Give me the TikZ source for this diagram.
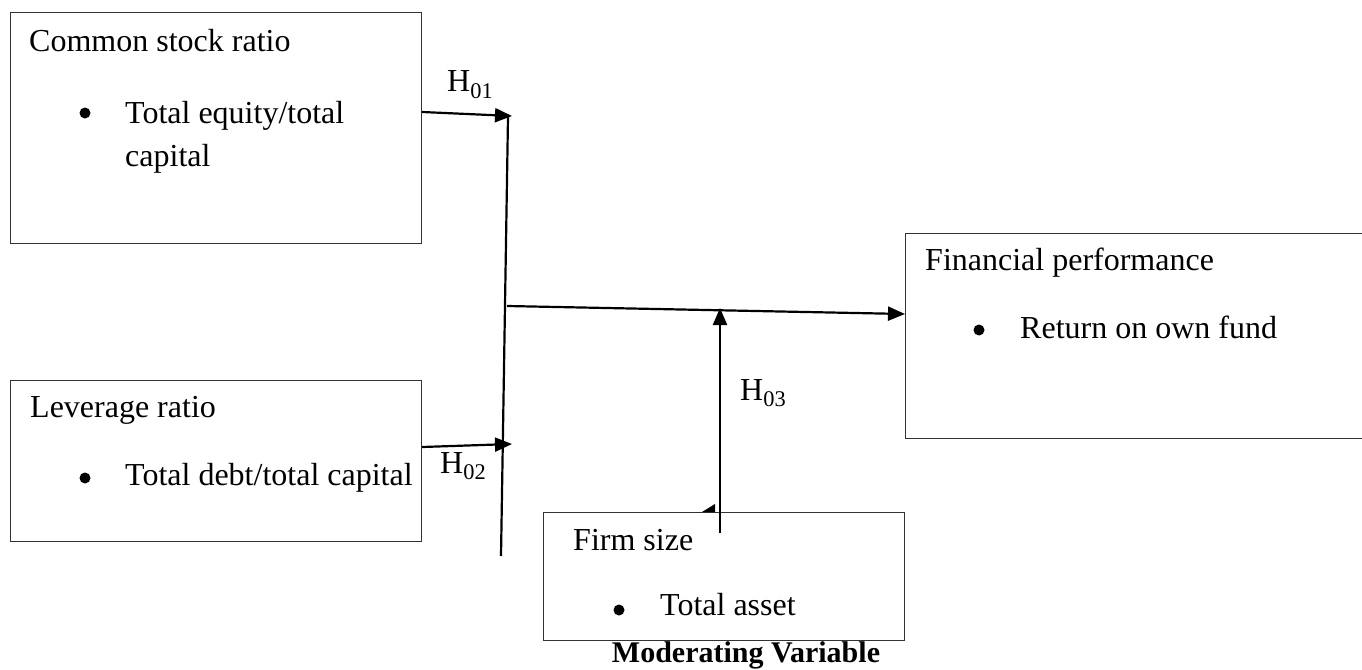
\documentclass[tikz,border=0pt]{standalone}
\usepackage{fontspec}
\setmainfont{Liberation Serif}
\usetikzlibrary{arrows.meta}

\tikzset{
  varbox/.style={draw=black!80, line width=1.2pt, fill=white, anchor=north west, inner sep=0pt},
  txt/.style={anchor=base west, inner sep=0pt, font=\fontsize{32}{38}\selectfont},
  hyp/.style={anchor=base west, inner sep=0pt, font=\fontsize{32}{38}\selectfont},
  dot/.style={circle, fill=black, inner sep=0pt, minimum size=11pt},
  link/.style={line width=2.2pt, black},
}

\begin{document}
\begin{tikzpicture}[x=1pt, y=-1pt, >={Triangle[length=17pt,width=14pt]}]
  \useasboundingbox[fill=white] (0,0) rectangle (1362,669);

  % Independent variables
  \node[varbox, minimum width=411pt, minimum height=231pt] (csr) at (10,12) {};
  \node[txt] (csrtitle) at (29,52) {Common stock ratio};
  \node[dot] (csrdot) at (85,113) {};
  \node[txt] (csritem) at (125,123) {Total equity/total};
  \node[txt] (csritemb) at (125,166) {capital};

  \node[varbox, minimum width=411pt, minimum height=161pt] (lev) at (10,380) {};
  \node[txt] (levtitle) at (30,417) {Leverage ratio};
  \node[dot] (levdot) at (85,478) {};
  \node[txt] (levitem) at (125,485) {Total debt/total capital};

  % Dependent variable (runs off the right edge)
  \node[varbox, minimum width=470pt, minimum height=205pt] (fp) at (905,233) {};
  \node[txt] (fptitle) at (925,270) {Financial performance};
  \node[dot] (fpdot) at (979,330) {};
  \node[txt] (fpitem) at (1020,338) {Return on own fund};

  % Moderating variable
  \node[varbox, minimum width=361pt, minimum height=128pt] (fs) at (543,512) {};
  \node[txt] (fstitle) at (573,550) {Firm size};
  \node[dot] (fsdot) at (619,610) {};
  \node[txt] (fsitem) at (660,615) {Total asset};
  \node[anchor=base, inner sep=0pt, font=\fontsize{30}{36}\selectfont\bfseries] (modlabel) at (746,662) {Moderating Variable};

  % Junction points
  \coordinate (vtop) at (508,117);
  \coordinate (vbot) at (501,556);
  \coordinate (jone) at (512,116);
  \coordinate (jtwo) at (512,444);
  \coordinate (jmid) at (507,306);
  \coordinate (fsout) at (720,533);
  \coordinate (fsin) at (720,308);

  % Connectors
  \draw[link] (vtop) -- (vbot);
  \draw[link, ->] (csr.east |- 0,112) -- (jone);
  \draw[link, ->] (lev.east |- 0,447) -- (jtwo);
  \draw[link, ->] (jmid) -- (fp.west |- 0,314);
  \draw[link, ->] (fsout) -- (fsin);
  \fill (702,512) -- (715,504) -- (715,512) -- cycle;

  % Hypotheses
  \node[hyp] (hone) at (447,92) {H\textsubscript{01}};
  \node[hyp] (htwo) at (440,473) {H\textsubscript{02}};
  \node[hyp] (hthree) at (740,400) {H\textsubscript{03}};
\end{tikzpicture}
\end{document}
